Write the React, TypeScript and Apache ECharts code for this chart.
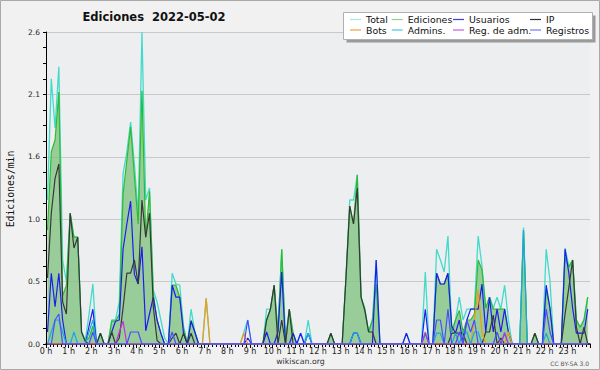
import React, { useEffect, useRef } from "react";
import * as echarts from "echarts";

// 10-minute bins, values in edits per minute
const BIN_MINUTES = 10;

const seriesNames = ["Total", "Ediciones", "Usuarios", "IP", "Bots", "Admins.", "Reg. de adm.", "Registros"];

const total = [
  1.2, 2.21, 1.8, 2.31, 0.7, 0.52, 1.09, 0.89, 0.89, 0.1, 0.03, 0.25,
  0.5, 0, 0.09, 0, 0, 0.2, 0.2, 0.35, 1.42, 1.6, 1.85, 1.5,
  1.07, 2.6, 1.2, 1.3, 0.45, 0.35, 0.2, 0.05, 0, 0.59, 0.5, 0.49,
  0.15, 0, 0.29, 0.1, 0, 0, 0.38, 0, 0, 0, 0, 0,
  0, 0, 0, 0, 0.1, 0.2, 0, 0, 0, 0, 0.29, 0.29,
  0.49, 0.1, 0.79, 0.05, 0.29, 0.09, 0, 0.09, 0, 0.2, 0, 0,
  0, 0, 0, 0.09, 0, 0, 0, 0.55, 1.2, 1.2, 1.41, 0.39,
  0.3, 0.1, 0.2, 0.7, 0, 0, 0, 0, 0, 0, 0, 0.09,
  0, 0, 0, 0, 0.6, 0, 0, 0.79, 0.7, 0.6, 0.9, 0.1,
  0.2, 0.39, 0.2, 0.29, 0.29, 0.3, 0.9, 0.65, 0.3, 0.39, 0.3, 0.39,
  0.29, 0.49, 0.2, 0, 0, 0, 0.97, 0, 0, 0.09, 0, 0,
  0.79, 0.53, 0, 0, 0, 0.8, 0.65, 0.7, 0.2, 0.14, 0.2, 0.39,
];

const ediciones = [
  0.95, 1.6, 1.7, 2.1, 0.4, 0.49, 1.09, 0.89, 0.89, 0.1, 0.03, 0.05,
  0.15, 0, 0.09, 0, 0, 0.19, 0.19, 0.25, 1.25, 1.53, 1.81, 1.4,
  1.0, 2.11, 0.89, 1.27, 0.42, 0.2, 0.09, 0, 0, 0.49, 0.49, 0.39,
  0.13, 0, 0.2, 0.1, 0, 0, 0, 0, 0, 0, 0, 0,
  0, 0, 0, 0, 0, 0, 0, 0, 0, 0, 0.2, 0.29,
  0.49, 0.1, 0.79, 0, 0.29, 0.09, 0, 0, 0, 0, 0, 0,
  0, 0, 0, 0.09, 0, 0, 0, 0.55, 1.15, 1.0, 1.41, 0.39,
  0.28, 0.1, 0.2, 0.5, 0, 0, 0, 0, 0, 0, 0, 0,
  0, 0, 0, 0, 0.1, 0, 0, 0.59, 0.5, 0.5, 0.59, 0.1,
  0.2, 0.28, 0.1, 0.2, 0.2, 0.25, 0.7, 0.62, 0.3, 0.39, 0.29, 0.29,
  0.29, 0.29, 0.1, 0, 0, 0, 0.95, 0, 0, 0.09, 0, 0,
  0.45, 0.3, 0, 0, 0, 0.72, 0.64, 0.7, 0.2, 0.14, 0.2, 0.39,
];

const usuarios = [
  0.1, 0.59, 0.31, 0.59, 0.2, 0, 0, 0, 0, 0, 0, 0.15,
  0.29, 0, 0, 0, 0, 0.1, 0.19, 0.2, 0.79, 1.0, 1.19, 0.58,
  0.5, 0.81, 0.11, 0.25, 0.39, 0.2, 0.09, 0, 0, 0.49, 0.39, 0.39,
  0.09, 0, 0.19, 0.1, 0, 0, 0, 0, 0, 0, 0, 0,
  0, 0, 0, 0, 0, 0.05, 0, 0, 0, 0, 0.1, 0,
  0, 0.1, 0.6, 0, 0, 0.09, 0, 0.09, 0, 0.09, 0, 0,
  0, 0, 0, 0, 0, 0, 0, 0, 0, 0.09, 0.09, 0,
  0, 0, 0, 0.7, 0, 0, 0, 0, 0, 0, 0, 0.09,
  0, 0, 0, 0, 0.29, 0, 0, 0.59, 0.5, 0.5, 0.59, 0.15,
  0.09, 0.2, 0, 0.2, 0.29, 0.29, 0.29, 0.5, 0.1, 0.39, 0.1, 0.29,
  0.1, 0.29, 0.1, 0, 0, 0, 0, 0, 0, 0, 0, 0,
  0.49, 0.3, 0, 0, 0, 0.79, 0.59, 0.3, 0.09, 0.09, 0.09, 0.29,
];

const ip = [
  0.55, 1.09, 1.38, 1.5, 0.35, 0.25, 1.09, 0.8, 0.89, 0.1, 0.02, 0,
  0, 0, 0.09, 0, 0, 0.1, 0, 0.05, 0.3, 0.59, 0.59, 0.7,
  0.5, 1.2, 0.89, 1.09, 0.31, 0.03, 0, 0, 0, 0.05, 0.09, 0,
  0.09, 0, 0.09, 0, 0, 0, 0, 0, 0, 0, 0, 0,
  0, 0, 0, 0, 0, 0, 0, 0, 0, 0, 0.2, 0.29,
  0.49, 0, 0.2, 0, 0.29, 0, 0, 0, 0, 0, 0, 0,
  0, 0, 0, 0.09, 0, 0, 0, 0.55, 1.15, 1.0, 1.3, 0.39,
  0.28, 0.1, 0.1, 0, 0, 0, 0, 0, 0, 0, 0, 0,
  0, 0, 0, 0, 0, 0, 0, 0, 0, 0, 0, 0.09,
  0.09, 0.09, 0.09, 0, 0, 0, 0, 0, 0.1, 0.1, 0.24, 0,
  0.05, 0, 0, 0, 0, 0, 0, 0, 0, 0.09, 0, 0,
  0, 0, 0, 0, 0, 0.25, 0.47, 0.7, 0.14, 0, 0.14, 0,
];

const bots = [
  0, 0, 0, 0, 0, 0, 0, 0, 0, 0, 0, 0,
  0, 0, 0, 0, 0, 0, 0, 0, 0, 0, 0, 0,
  0, 0, 0, 0, 0, 0, 0, 0, 0, 0, 0, 0,
  0, 0, 0, 0, 0, 0, 0.38, 0, 0, 0, 0, 0,
  0, 0, 0, 0, 0.09, 0, 0, 0, 0, 0, 0, 0,
  0, 0, 0, 0, 0, 0, 0, 0, 0, 0, 0, 0,
  0, 0, 0, 0, 0, 0, 0, 0, 0, 0, 0, 0,
  0, 0, 0, 0, 0, 0, 0, 0, 0, 0, 0, 0,
  0, 0, 0, 0, 0, 0, 0, 0, 0, 0, 0, 0,
  0, 0.1, 0, 0, 0, 0.2, 0.45, 0.1, 0, 0, 0, 0,
  0, 0, 0.1, 0, 0, 0, 0, 0, 0, 0, 0, 0,
  0, 0, 0, 0, 0, 0, 0, 0, 0, 0, 0, 0,
];

const admins = [
  0, 0.1, 0.2, 0.2, 0.1, 0, 0, 0.1, 0, 0, 0, 0.1,
  0.2, 0, 0, 0, 0, 0, 0, 0, 0, 0, 0, 0,
  0, 0, 0, 0, 0, 0, 0, 0, 0, 0, 0, 0,
  0, 0, 0, 0, 0, 0, 0, 0, 0, 0, 0, 0,
  0, 0, 0, 0, 0, 0, 0, 0, 0, 0, 0, 0,
  0, 0, 0, 0, 0, 0, 0, 0, 0, 0.09, 0, 0,
  0, 0, 0, 0, 0, 0, 0, 0, 0, 0.09, 0.09, 0,
  0, 0, 0, 0, 0, 0, 0, 0, 0, 0, 0, 0,
  0, 0, 0, 0, 0.09, 0, 0, 0.09, 0.09, 0, 0, 0,
  0.09, 0, 0.1, 0.1, 0, 0.1, 0.1, 0, 0, 0, 0, 0,
  0, 0.1, 0, 0, 0, 0, 0.95, 0, 0, 0, 0, 0,
  0.09, 0, 0, 0, 0, 0, 0, 0, 0, 0, 0, 0,
];

const regAdm = [
  0, 0, 0, 0, 0, 0, 0, 0, 0, 0, 0, 0,
  0, 0, 0, 0, 0, 0, 0, 0.1, 0.19, 0, 0, 0,
  0, 0, 0, 0, 0, 0, 0, 0, 0, 0, 0, 0,
  0, 0, 0, 0, 0, 0, 0, 0, 0, 0, 0, 0,
  0, 0, 0, 0, 0, 0, 0, 0, 0, 0, 0, 0,
  0, 0, 0, 0, 0, 0, 0, 0, 0, 0, 0, 0,
  0, 0, 0, 0, 0, 0, 0, 0, 0, 0, 0, 0,
  0, 0, 0, 0, 0, 0, 0, 0, 0, 0, 0, 0,
  0, 0, 0, 0, 0.09, 0, 0, 0, 0, 0, 0, 0,
  0, 0, 0, 0, 0, 0, 0, 0, 0, 0, 0, 0,
  0, 0.09, 0, 0, 0, 0, 0, 0, 0, 0, 0, 0,
  0, 0, 0, 0, 0, 0, 0, 0, 0, 0, 0, 0,
];

const registros = [
  0, 0, 0.2, 0.25, 0, 0, 0, 0, 0, 0, 0, 0,
  0.1, 0, 0, 0, 0, 0, 0, 0, 0, 0, 0.1, 0.1,
  0.1, 0, 0, 0, 0, 0, 0, 0, 0, 0.1, 0, 0,
  0, 0, 0, 0, 0, 0, 0, 0, 0, 0, 0, 0,
  0, 0, 0, 0, 0, 0.2, 0, 0, 0, 0, 0, 0,
  0, 0, 0, 0, 0, 0, 0, 0, 0, 0, 0, 0,
  0, 0, 0, 0, 0, 0, 0, 0, 0, 0, 0, 0,
  0, 0, 0, 0, 0, 0, 0, 0, 0, 0, 0, 0,
  0, 0, 0, 0, 0, 0, 0, 0.2, 0.2, 0, 0.29, 0,
  0, 0.1, 0, 0.2, 0.1, 0.2, 0, 0, 0, 0, 0, 0.1,
  0, 0, 0, 0, 0, 0, 0, 0, 0, 0, 0, 0,
  0.29, 0.1, 0, 0, 0, 0, 0, 0, 0, 0, 0, 0,
];

const seriesValues = [total, ediciones, usuarios, ip, bots, admins, regAdm, registros];

const lineColors = ["#44dacb", "#2fbb2f", "#1c1cf0", "#383838", "#f59a12", "#1ea6e2", "#c030e0", "#4c4cff"];
const legendColors = ["#a6e8e0", "#8fd08f", "#3c3cdc", "#303030", "#f2a040", "#46c8e0", "#c85ae6", "#7a7af0"];

const yTickValues = [0, 0.52, 1.04, 1.56, 2.08, 2.6];
const titleText = "Ediciones  2022-05-02";
const yName = "Ediciones/min";

const FONT = "DejaVu Sans, Verdana, sans-serif";

function toPoints(arr: number[]) {
  return arr.map((v, i) => [((i + 0.4) * BIN_MINUTES) / 60, v]);
}

export default function App() {
  const ref = useRef<HTMLDivElement>(null);

  useEffect(() => {
    if (!ref.current) return;
    const chart = echarts.init(ref.current, null, { renderer: "svg" });

    const series: any[] = seriesNames.map((name, k) => {
      const s: any = {
        name,
        type: "line",
        data: toPoints(seriesValues[k]),
        symbol: "none",
        lineStyle: { color: lineColors[k], width: k === 0 ? 1.3 : 1.2 },
        itemStyle: { color: lineColors[k] },
        z: 2,
      };
      if (k === 1) {
        s.areaStyle = { color: "#7cc27c", opacity: 0.75, origin: "start" };
      }
      return s;
    });

    const legendCols = [350, 391.7, 453, 530];
    const legendRows = [19.5, 30];
    const legendEls: any[] = [];
    seriesNames.forEach((name, k) => {
      const cx = legendCols[k % 4];
      const cy = legendRows[Math.floor(k / 4)];
      legendEls.push({
        type: "line",
        shape: { x1: cx, y1: cy, x2: cx + 11, y2: cy },
        style: { stroke: legendColors[k], lineWidth: 1.2 },
        silent: true,
      });
      legendEls.push({
        type: "text",
        x: cx + 16,
        y: cy,
        style: {
          text: name,
          fill: "#111",
          font: `9.4px ${FONT}`,
          align: "left",
          verticalAlign: "middle",
          textAlign: "left",
          textVerticalAlign: "middle",
        },
        silent: true,
      });
    });

    chart.setOption({
      animation: false,
      backgroundColor: "#f1f1f1",
      grid: {
        left: 46,
        right: 10,
        top: 32,
        bottom: 26,
        show: true,
        backgroundColor: "#eceef0",
        borderWidth: 0,
      },
      xAxis: {
        type: "value",
        min: 0,
        max: 24,
        interval: 1,
        axisLine: { show: true, lineStyle: { color: "#000", width: 1.5 } },
        axisTick: { show: true, length: 4, lineStyle: { color: "#000" } },
        minorTick: { show: true, splitNumber: 6, length: 3, lineStyle: { color: "#000" } },
        splitLine: { show: false },
        axisLabel: {
          formatter: (v: number) => (v < 24 ? `${v} h` : ""),
          fontSize: 8,
          fontFamily: FONT,
          color: "#222",
          margin: 3,
          showMaxLabel: false,
        },
      },
      yAxis: {
        type: "value",
        min: 0,
        max: yTickValues[yTickValues.length - 1],
        interval: yTickValues[1],
        axisLine: { show: true, lineStyle: { color: "#000", width: 1 } },
        axisTick: { show: true, length: 3, lineStyle: { color: "#000" } },
        minorTick: { show: true, splitNumber: 4, length: 3, lineStyle: { color: "#000" } },
        splitLine: { show: true, lineStyle: { color: "#c9c9c9", width: 1 } },
        axisLabel: {
          formatter: (v: number) => v.toFixed(1),
          fontSize: 7.5,
          fontFamily: FONT,
          color: "#222",
          margin: 6,
        },
      },
      series,
      graphic: [
        {
          type: "rect",
          shape: { x: 0.5, y: 0.5, width: 599, height: 369 },
          style: { fill: "none", stroke: "#a8a8a8", lineWidth: 1 },
          silent: true,
        },
        {
          type: "text",
          x: 154,
          y: 17,
          style: {
            text: titleText,
            fill: "#111",
            font: `bold 11.5px ${FONT}`,
            align: "center",
            verticalAlign: "middle",
            textAlign: "center",
            textVerticalAlign: "middle",
          },
          silent: true,
        },
        {
          type: "text",
          x: 10,
          y: 189,
          rotation: Math.PI / 2,
          style: {
            text: yName,
            fill: "#111",
            font: `9.8px DejaVu Sans Mono, monospace`,
            align: "center",
            verticalAlign: "middle",
            textAlign: "center",
            textVerticalAlign: "middle",
          },
          silent: true,
        },
        {
          type: "text",
          x: 300.5,
          y: 361,
          style: {
            text: "wikiscan.org",
            fill: "#333",
            font: `7.8px ${FONT}`,
            align: "center",
            verticalAlign: "middle",
            textAlign: "center",
            textVerticalAlign: "middle",
          },
          silent: true,
        },
        {
          type: "text",
          x: 589,
          y: 363,
          style: {
            text: "CC BY-SA 3.0",
            fill: "#555",
            font: `6px ${FONT}`,
            align: "right",
            verticalAlign: "middle",
            textAlign: "right",
            textVerticalAlign: "middle",
          },
          silent: true,
        },
        {
          type: "rect",
          shape: { x: 346.5, y: 15.5, width: 249, height: 27 },
          style: { fill: "#9a9a9a", stroke: "none" },
          silent: true,
          z: 10,
        },
        {
          type: "rect",
          shape: { x: 343.5, y: 12.5, width: 249, height: 27 },
          style: { fill: "#ffffff", stroke: "#b0b0b0", lineWidth: 1 },
          silent: true,
          z: 11,
        },
        ...legendEls.map((e) => ({ ...e, z: 12 })),
      ],
    });

    return () => chart.dispose();
  }, []);

  return (
    <div
      ref={ref}
      style={{ position: "fixed", left: 0, top: 0, width: 600, height: 370 }}
    />
  );
}
